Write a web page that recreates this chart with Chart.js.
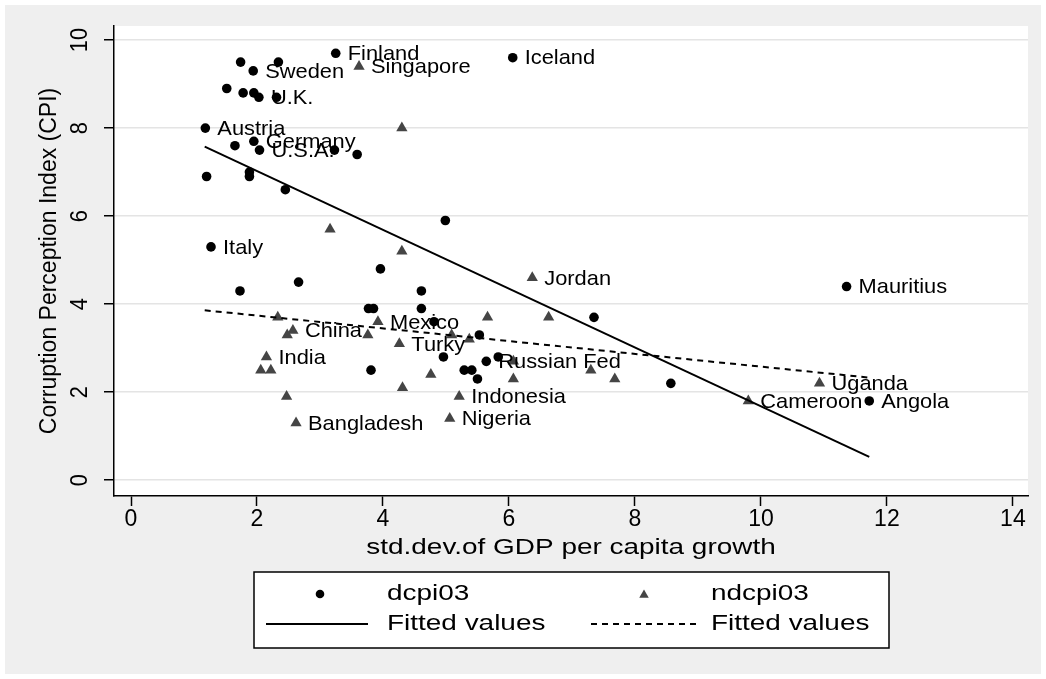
<!DOCTYPE html>
<html>
<head>
<meta charset="utf-8">
<script src="https://cdn.jsdelivr.net/npm/chart.js@4/dist/chart.umd.min.js"></script>
<style>
  html, body { margin: 0; padding: 0; background: #ffffff; }
  canvas { display: block; }
</style>
</head>
<body>
<canvas id="c" width="1046" height="679" style="width:1046px;height:679px"></canvas>
<script>
// ---- data ----
const dcpiX = [3.25, 1.74, 2.34, 6.06, 1.94, 1.52, 1.78, 1.95, 2.03, 2.31, 1.18, 1.95, 1.65, 2.04, 3.23, 3.59, 1.20, 1.88, 1.88, 2.45,
               4.99, 1.27, 3.96, 2.66, 1.73, 4.61, 3.77, 3.85, 4.61, 4.81, 5.53, 4.96, 3.81, 5.64, 5.83, 5.29, 5.41, 5.50, 7.35, 8.57,
               11.36, 11.72];
const dcpiY = [9.7, 9.5, 9.5, 9.6, 9.3, 8.9, 8.8, 8.8, 8.7, 8.7, 8.0, 7.7, 7.6, 7.5, 7.5, 7.4, 6.9, 7.0, 6.9, 6.6,
               5.9, 5.3, 4.8, 4.5, 4.3, 4.3, 3.9, 3.9, 3.9, 3.6, 3.3, 2.8, 2.5, 2.7, 2.8, 2.5, 2.5, 2.3, 3.7, 2.2,
               4.4, 1.8];
const dcpiLabels = ["Finland", "", "", "Iceland", "Sweden", "", "", "", "U.K.", "", "Austria", "Germany", "", "U.S.A.", "", "", "", "", "", "",
                    "", "Italy", "", "", "", "", "", "", "", "", "", "", "", "Russian Fed", "", "", "", "", "", "",
                    "Mauritius", "Angola"];

const ndcpiX = [3.62, 4.30, 3.16, 4.30, 6.37, 2.33, 2.57, 2.48, 3.92, 3.76, 4.26, 5.09, 5.37, 5.66, 6.63, 2.15, 2.06, 2.22, 4.76, 4.31,
                2.47, 2.62, 5.21, 5.06, 6.07, 6.07, 7.30, 7.68, 10.93, 9.80];
const ndcpiY = [9.4, 8.0, 5.7, 5.2, 4.6, 3.7, 3.4, 3.3, 3.6, 3.3, 3.1, 3.3, 3.2, 3.7, 3.7, 2.8, 2.5, 2.5, 2.4, 2.1,
                1.9, 1.3, 1.9, 1.4, 2.7, 2.3, 2.5, 2.3, 2.2, 1.8];
const ndcpiLabels = ["Singapore", "", "", "", "Jordan", "", "China", "", "Mexico", "", "Turky", "", "", "", "", "India", "", "", "", "",
                     "", "Bangladesh", "Indonesia", "Nigeria", "", "", "", "", "Uganda", "Cameroon"];

const fitDX = [1.17, 11.72];
const fitDY = [7.58, 0.53];
const fitNX = [1.17, 11.72];
const fitNY = [3.86, 2.33];

const xTicks = [0, 2, 4, 6, 8, 10, 12, 14];
const yTicks = [0, 2, 4, 6, 8, 10];
const xTitle = "std.dev.of GDP per capita growth";
const yTitle = "Corruption Perception Index (CPI)";
const legendNames = ["dcpi03", "ndcpi03", "Fitted values", "Fitted values"];

// ---- helpers ----
const FONT = '"Liberation Sans", Arial, Helvetica, sans-serif';
function txt(ctx, s, x, y, size, sx, sy, align, rot) {
  ctx.save();
  ctx.translate(x, y);
  if (rot) ctx.rotate(rot);
  ctx.scale(sx, sy);
  ctx.font = size + 'px ' + FONT;
  ctx.textAlign = align;
  ctx.textBaseline = 'middle';
  ctx.fillStyle = '#000';
  ctx.fillText(s, 0, 0);
  ctx.restore();
}
function tri(ctx, x, y, r, color) {
  ctx.beginPath();
  ctx.moveTo(x, y - r);
  ctx.lineTo(x + r * Math.sin(Math.PI / 3), y + r / 2);
  ctx.lineTo(x - r * Math.sin(Math.PI / 3), y + r / 2);
  ctx.closePath();
  ctx.fillStyle = color;
  ctx.fill();
}

const bgPlugin = {
  id: 'bg',
  beforeDraw(chart) {
    const ctx = chart.ctx, a = chart.chartArea;
    ctx.save();
    ctx.fillStyle = '#ffffff';
    ctx.fillRect(0, 0, chart.width, chart.height);
    ctx.fillStyle = '#efefef';
    ctx.fillRect(5, 5, chart.width - 10, chart.height - 10);
    ctx.fillStyle = '#ffffff';
    ctx.fillRect(a.left, a.top, a.right - a.left, a.bottom - a.top);
    ctx.restore();
  }
};

const textPlugin = {
  id: 'texts',
  afterDatasetsDraw(chart) {
    const ctx = chart.ctx;
    const xs = chart.scales.x, ys = chart.scales.y, a = chart.chartArea;
    // point labels
    const sets = [[dcpiX, dcpiY, dcpiLabels], [ndcpiX, ndcpiY, ndcpiLabels]];
    sets.forEach(([X, Y, L]) => {
      L.forEach((s, i) => {
        if (!s) return;
        txt(ctx, s, xs.getPixelForValue(X[i]) + 12, ys.getPixelForValue(Y[i]) + 1, 21, 1.04, 1, 'left', 0);
      });
    });
  },
  afterDraw(chart) {
    const ctx = chart.ctx;
    const xs = chart.scales.x, ys = chart.scales.y, a = chart.chartArea;
    // tick labels
    xTicks.forEach(v => txt(ctx, String(v), xs.getPixelForValue(v), a.bottom + 23, 23, 1, 1.05, 'center', 0));
    yTicks.forEach(v => txt(ctx, String(v), a.left - 34, ys.getPixelForValue(v), 23, 0.95, 1.08, 'center', -Math.PI / 2));
    // axis titles
    txt(ctx, xTitle, (a.left + a.right) / 2, a.bottom + 52, 22, 1.27, 1, 'center', 0);
    txt(ctx, yTitle, 50, (a.top + a.bottom) / 2, 23, 1, 1, 'center', -Math.PI / 2);
    // legend box
    const L = 254, R = 889, T = 572, B = 648;
    ctx.save();
    ctx.fillStyle = '#ffffff';
    ctx.fillRect(L, T, R - L, B - T);
    ctx.strokeStyle = '#000';
    ctx.lineWidth = 1.5;
    ctx.strokeRect(L, T, R - L, B - T);
    const r1 = 594, r2 = 624;
    ctx.beginPath(); ctx.arc(320, r1, 4.3, 0, Math.PI * 2); ctx.fillStyle = '#000'; ctx.fill();
    tri(ctx, 644, r1 + 1, 5.5, '#454545');
    ctx.beginPath(); ctx.moveTo(266, r2); ctx.lineTo(368, r2); ctx.lineWidth = 2; ctx.setLineDash([]); ctx.stroke();
    ctx.beginPath(); ctx.moveTo(591, r2); ctx.lineTo(697, r2); ctx.setLineDash([6, 5]); ctx.stroke();
    ctx.setLineDash([]);
    ctx.restore();
    txt(ctx, legendNames[0], 387, r1, 22, 1.27, 1, 'left', 0);
    txt(ctx, legendNames[1], 711, r1, 22, 1.27, 1, 'left', 0);
    txt(ctx, legendNames[2], 387, r2, 22, 1.27, 1, 'left', 0);
    txt(ctx, legendNames[3], 711, r2, 22, 1.27, 1, 'left', 0);
  }
};

new Chart(document.getElementById('c'), {
  type: 'scatter',
  data: {
    datasets: [
      { label: legendNames[2], type: 'line', data: fitDX.map((x, i) => ({ x, y: fitDY[i] })),
        borderColor: '#000', borderWidth: 2, pointRadius: 0, fill: false, tension: 0 },
      { label: legendNames[3], type: 'line', data: fitNX.map((x, i) => ({ x, y: fitNY[i] })),
        borderColor: '#000', borderWidth: 2, borderDash: [6, 5], pointRadius: 0, fill: false, tension: 0 },
      { label: legendNames[0], data: dcpiX.map((x, i) => ({ x, y: dcpiY[i] })),
        pointStyle: 'circle', pointRadius: 4.8, backgroundColor: '#000', borderWidth: 0 },
      { label: legendNames[1], data: ndcpiX.map((x, i) => ({ x, y: ndcpiY[i] })),
        pointStyle: 'triangle', pointRadius: 6.5, backgroundColor: '#454545', borderWidth: 0 }
    ]
  },
  options: {
    responsive: false,
    animation: false,
    layout: { padding: { top: 26, right: 18, left: 0, bottom: 0 } },
    plugins: { legend: { display: false }, tooltip: { enabled: false } },
    scales: {
      x: {
        type: 'linear', min: -0.27, max: 14.24,
        afterBuildTicks: s => { s.ticks = xTicks.map(v => ({ value: v })); },
        afterFit: s => { s.height = 183; },
        ticks: { display: false },
        grid: { drawOnChartArea: false, drawTicks: true, tickLength: 10, color: '#000', tickColor: '#000', tickWidth: 1.5 },
        border: { display: true, color: '#000', width: 1.5 }
      },
      y: {
        type: 'linear', min: -0.36, max: 10.32,
        afterBuildTicks: s => { s.ticks = yTicks.map(v => ({ value: v })); },
        afterFit: s => { s.width = 114; },
        ticks: { display: false },
        grid: { drawOnChartArea: true, drawTicks: true, tickLength: 10, color: '#e4e4e4', lineWidth: 1.5, tickColor: '#000', tickWidth: 1.5 },
        border: { display: true, color: '#000', width: 1.5 }
      }
    }
  },
  plugins: [bgPlugin, textPlugin]
});
</script>
</body>
</html>
